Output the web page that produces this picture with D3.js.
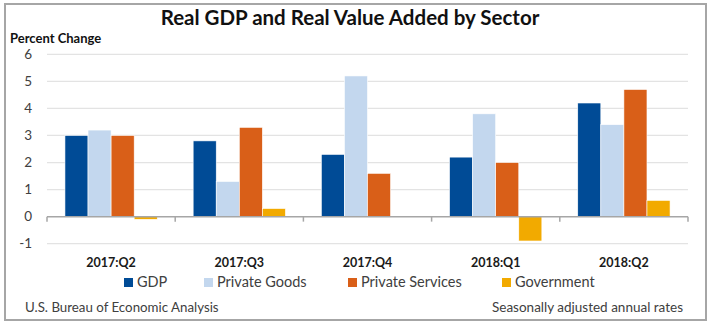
<!DOCTYPE html>
<html><head><meta charset="utf-8">
<script src="https://cdn.jsdelivr.net/npm/d3@7"></script>
<style>
body{margin:0;background:#fff;}
text{font-family:Lato,"Open Sans",sans-serif;}
</style></head>
<body><svg id="c" width="720" height="328"></svg>
<script>
const categories = ["2017:Q2","2017:Q3","2017:Q4","2018:Q1","2018:Q2"];
const seriesNames = ["GDP","Private Goods","Private Services","Government"];
const gdp = [3.0, 2.8, 2.3, 2.2, 4.2];
const privateGoods = [3.2, 1.3, 5.2, 3.8, 3.4];
const privateServices = [3.0, 3.3, 1.6, 2.0, 4.7];
const government = [-0.1, 0.3, 0.0, -0.9, 0.6];
const yTicks = [-1,0,1,2,3,4,5,6];
const colors = ["#004B96","#C3D7EE","#D95F18","#F2AA00"];

const seriesValues = [gdp, privateGoods, privateServices, government];
const svg = d3.select("#c");

// frame
svg.append("rect").attr("x",5).attr("y",4).attr("width",701).attr("height",316)
  .attr("fill","#fff").attr("stroke","#a6a6a6").attr("stroke-width",2);

const y = d3.scaleLinear().domain([-1,6]).range([243.7,54.3]);
const x0 = d3.scaleBand().domain(categories).range([47,688]).paddingInner(0.28).paddingOuter(0.14);
const x1 = d3.scaleBand().domain(seriesNames).range([0,x0.bandwidth()]);

// gridlines
svg.append("g").selectAll("line").data(yTicks.filter(t=>t!==0)).join("line")
  .attr("x1",47).attr("x2",688).attr("y1",d=>y(d)).attr("y2",d=>y(d))
  .attr("stroke","#e3e3e3").attr("stroke-width",1.2);

// y labels
svg.append("g").selectAll("text").data(yTicks).join("text")
  .attr("x",32).attr("y",d=>y(d)).attr("dy","0.35em").attr("text-anchor","end")
  .attr("font-size",13.5).attr("fill","#404040").text(d=>d);

// bars
const g = svg.append("g");
categories.forEach((c,i)=>{
  seriesNames.forEach((s,j)=>{
    const v = seriesValues[j][i];
    g.append("rect")
      .attr("x", x0(c)+x1(s)).attr("width", x1.bandwidth())
      .attr("y", y(Math.max(0,v))).attr("height", Math.abs(y(v)-y(0)))
      .attr("fill", colors[j]).attr("stroke","#fff").attr("stroke-width",0.6);
  });
});

// zero axis with ticks at band boundaries
svg.append("line").attr("x1",47).attr("x2",688).attr("y1",y(0)).attr("y2",y(0))
  .attr("stroke","#a6a6a6").attr("stroke-width",1.5);
const bounds = d3.range(categories.length+1).map(i=>47 + i*x0.step());
svg.append("g").selectAll("line").data(bounds).join("line")
  .attr("x1",d=>d).attr("x2",d=>d).attr("y1",y(0)).attr("y2",y(0)+5)
  .attr("stroke","#a6a6a6").attr("stroke-width",1.5);

// category labels
svg.append("g").selectAll("text").data(categories).join("text")
  .attr("x",d=>x0(d)+x0.bandwidth()/2).attr("y",267).attr("text-anchor","middle")
  .attr("font-size",12.5).attr("font-weight","bold").attr("fill","#1a1a1a").text(d=>d);

// title
svg.append("text").attr("x",350).attr("y",25).attr("text-anchor","middle")
  .attr("font-size",20.5).attr("font-weight","bold").attr("fill","#111")
  .text("Real GDP and Real Value Added by Sector");
svg.append("text").attr("x",10).attr("y",43).attr("font-size",13)
  .attr("font-weight","bold").attr("fill","#111").text("Percent Change");

// legend
const legendX = [124, 204, 348, 502];
const lg = svg.append("g");
seriesNames.forEach((s,j)=>{
  lg.append("rect").attr("x",legendX[j]).attr("y",278).attr("width",9).attr("height",9).attr("fill",colors[j]);
  lg.append("text").attr("x",legendX[j]+13).attr("y",286.5).attr("font-size",14.5)
    .attr("fill","#404040").text(s);
});

// footer
svg.append("text").attr("x",25).attr("y",312).attr("font-size",13.3).attr("fill","#404040")
  .text("U.S. Bureau of Economic Analysis");
svg.append("text").attr("x",683).attr("y",312).attr("text-anchor","end").attr("font-size",13.5)
  .attr("fill","#404040").text("Seasonally adjusted annual rates");
</script></body></html>
